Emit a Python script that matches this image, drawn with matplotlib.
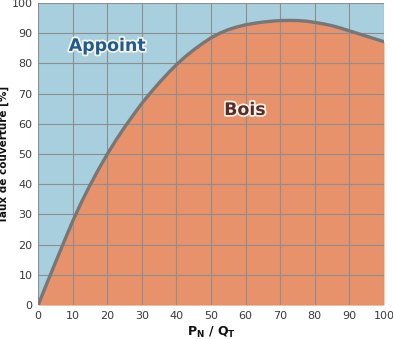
import numpy as np
import matplotlib

matplotlib.use("Agg")
import matplotlib.pyplot as plt
import matplotlib.patheffects as pe

# coverage curve
pn_qt = [0, 2.5, 5, 7.5, 10, 12.5, 15, 17.5, 20, 22.5, 25, 27.5, 30, 32.5, 35, 37.5, 40,
         42.5, 45, 47.5, 50, 52.5, 55, 57.5, 60, 62.5, 65, 67.5, 70, 72.5, 75, 77.5, 80,
         82.5, 85, 87.5, 90, 92.5, 95, 97.5, 100]
taux = [0, 7.1, 14.1, 21.0, 27.8, 34.0, 39.7, 45.0, 50.0, 54.6, 58.9, 62.9, 66.8, 70.3, 73.6,
        76.7, 79.6, 82.2, 84.5, 86.6, 88.5, 90.0, 91.2, 92.1, 92.8, 93.3, 93.7, 94.0, 94.2,
        94.25, 94.2, 94.0, 93.6, 93.1, 92.5, 91.7, 90.8, 89.9, 89.0, 88.1, 87.2]
ticks = list(range(0, 101, 10))

BLUE = "#a7cfdd"
ORANGE = "#e8926c"
GRID = "#8e8e8e"
CURVE = "#777777"
INK = "#3a3a3a"

fig = plt.figure(figsize=(3.93, 3.39), dpi=100)
ax = fig.add_axes([0.097, 0.100, 0.880, 0.891])

ax.set_facecolor(BLUE)
ax.fill_between(pn_qt, 0, taux, color=ORANGE, lw=0, zorder=1)
ax.plot(pn_qt, taux, color=CURVE, lw=2.4, solid_capstyle="round", solid_joinstyle="round", zorder=3)

ax.set_xlim(0, 100)
ax.set_ylim(0, 100)
ax.set_xticks(ticks)
ax.set_yticks(ticks)
ax.grid(True, color=GRID, lw=0.8, zorder=2)
ax.set_axisbelow(False)
ax.tick_params(length=0, labelsize=8, colors=INK, pad=4)
for s in ax.spines.values():
    s.set_visible(False)

ax.set_ylabel("Taux de couverture [%]", fontsize=7.5, fontweight="bold", color="#111111", labelpad=2)
ax.set_xlabel(r"$\mathbf{P_N}$ / $\mathbf{Q_T}$", fontsize=9, fontweight="bold", color="#111111", labelpad=3)

halo = [pe.withStroke(linewidth=2.5, foreground="#fbf3e4")]
ax.text(20, 85.8, "Appoint", fontsize=12.5, fontweight="bold", color="#1d5c94",
        ha="center", va="center", path_effects=halo, zorder=5)
ax.text(59.8, 64.6, "Bois", fontsize=12.5, fontweight="bold", color="#5a2c2c",
        ha="center", va="center", path_effects=halo, zorder=5)

fig.savefig("out.png", dpi=100)
